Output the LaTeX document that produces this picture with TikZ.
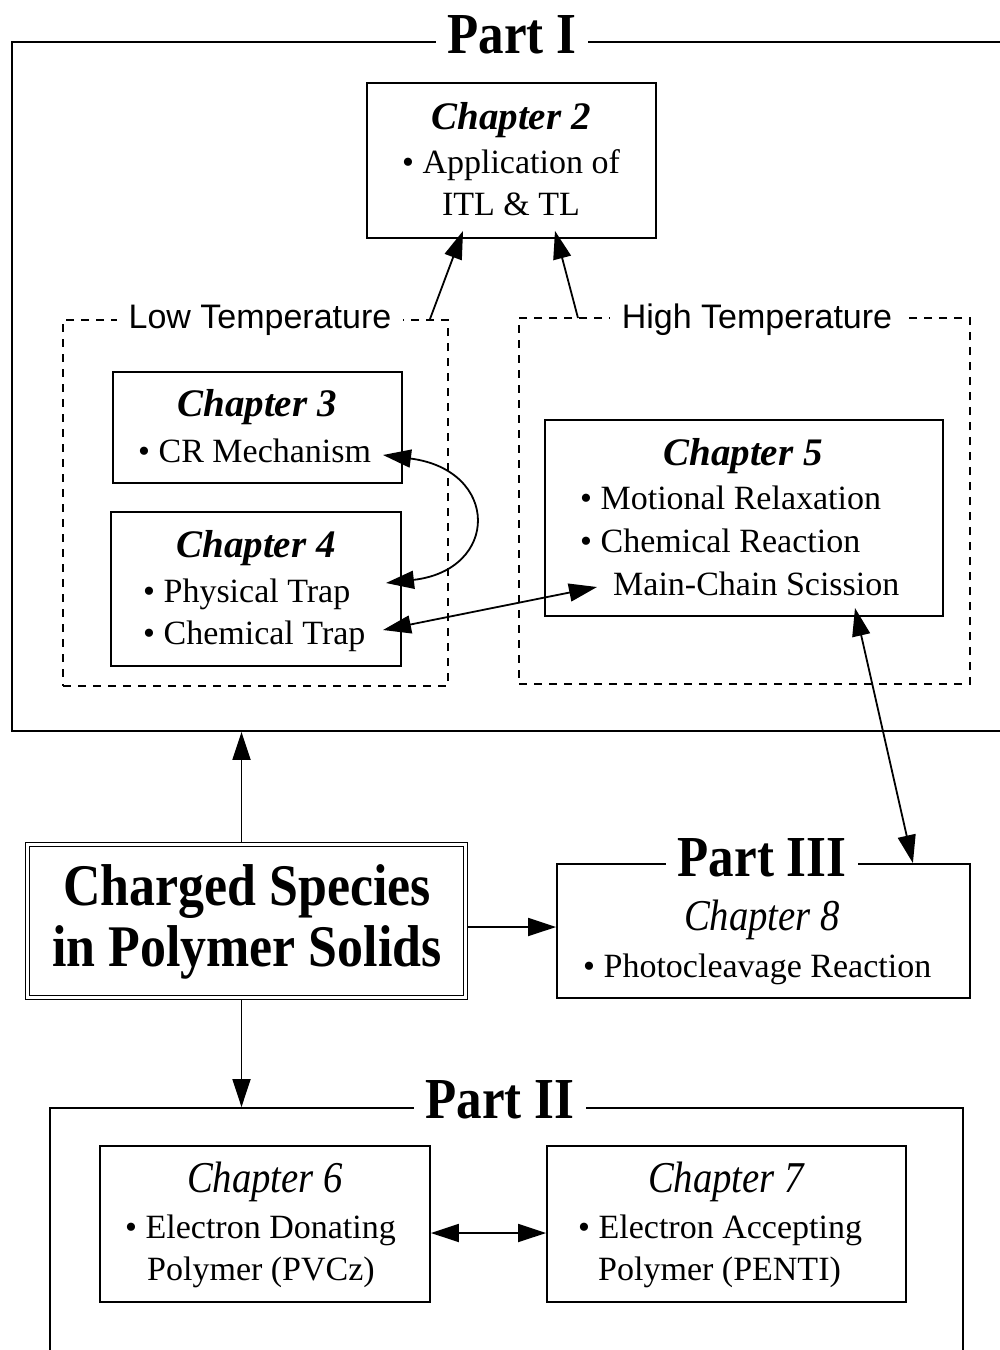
\documentclass[tikz,border=0pt]{standalone}
\usepackage{fontspec}
\setmainfont{Liberation Serif}
\newfontfamily\sansf{Liberation Sans}
\newfontfamily\condf[FakeStretch=0.88]{Liberation Serif}
\usetikzlibrary{arrows.meta,calc}
\begin{document}
\begin{tikzpicture}[x=1pt,y=-1pt,
  box/.style={draw, line width=1.8pt, inner sep=0pt},
  dbox/.style={draw, line width=1.3pt, dash pattern=on 8pt off 7pt, inner sep=0pt},
  body/.style={anchor=base west, inner sep=0pt, font=\fontsize{34}{40}\selectfont},
  cbody/.style={anchor=base, inner sep=0pt, font=\fontsize{34}{40}\selectfont},
  chap/.style={anchor=base, inner sep=0pt, font=\fontsize{39}{44}\selectfont\bfseries\itshape},
  chapl/.style={anchor=base, inner sep=0pt, font=\fontsize{44}{48}\selectfont\condf\itshape},
  part/.style={anchor=base, fill=white, inner xsep=12pt, inner ysep=0pt, font=\fontsize{58}{60}\selectfont\condf\bfseries},
  temp/.style={anchor=base, fill=white, inner xsep=12pt, inner ysep=2pt, font=\fontsize{34}{40}\selectfont\sansf},
  big/.style={anchor=base, inner sep=0pt, font=\fontsize{59}{62}\selectfont\condf\bfseries},
  arr/.style={line width=1.8pt, -{Triangle[length=28pt,width=18pt]}},
  darr/.style={line width=1.8pt, {Triangle[length=28pt,width=18pt]}-{Triangle[length=28pt,width=18pt]}},
]
\fill[white] (0,0) rectangle (1000,1350);
\useasboundingbox (0,0) rectangle (1000,1350);

% Frames
\node[box, minimum width=1008pt, minimum height=689pt] (p1) at (516,386.5) {};
\node[box, minimum width=913pt, minimum height=292pt] (p2) at (506.5,1254) {};
\node[box, minimum width=413pt, minimum height=134pt] (p3) at (763.5,931) {};
\node[dbox, minimum width=385pt, minimum height=366pt] (lt) at (255.5,503) {};
\node[dbox, minimum width=451pt, minimum height=366pt] (ht) at (744.5,501) {};

% Chapter boxes
\node[box, minimum width=289pt, minimum height=155pt] (c2) at (511.5,160.5) {};
\node[box, minimum width=289pt, minimum height=111pt] (c3) at (257.5,427.5) {};
\node[box, minimum width=290pt, minimum height=154pt] (c4) at (256,589) {};
\node[box, minimum width=398pt, minimum height=196pt] (c5) at (744,518) {};
\node[box, minimum width=330pt, minimum height=156pt] (c6) at (265,1224) {};
\node[box, minimum width=359pt, minimum height=156pt] (c7) at (726.5,1224) {};
\node[draw, line width=1.2pt, double, double distance=2.6pt, inner sep=0pt,
      minimum width=438pt, minimum height=153pt] (cs) at (246.5,921) {};

% Titles
\node[part] (t1) at (512,53) {Part I};
\node[part] (t3) at (762,876) {Part III};
\node[part] (t2) at (500,1118) {Part II};
\node[temp] (ltl) at (260,328) {Low Temperature};
\node[temp] (htl) at (757,328) {High Temperature};

% Texts
\node[chap] (c2h) at (511,129) {Chapter 2};
\node[cbody] (c2a) at (511,173) {\textbullet\ Application of};
\node[cbody] (c2b) at (511,215) {ITL \& TL};

\node[chap] (c3h) at (257,416) {Chapter 3};
\node[body] (c3a) at (138,462) {\textbullet\ CR Mechanism};

\node[chap] (c4h) at (256,557) {Chapter 4};
\node[body] (c4a) at (143,602) {\textbullet\ Physical Trap};
\node[body] (c4b) at (143,644) {\textbullet\ Chemical Trap};

\node[chap] (c5h) at (743,465) {Chapter 5};
\node[body] (c5a) at (580,509) {\textbullet\ Motional Relaxation};
\node[body] (c5b) at (580,552) {\textbullet\ Chemical Reaction};
\node[body] (c5c) at (613,595) {Main-Chain Scission};

\node[big] (csa) at (247,905) {Charged Species};
\node[big] (csb) at (247,966) {in Polymer Solids};

\node[chapl] (c8h) at (762,930) {Chapter 8};
\node[body] (c8a) at (583,977) {\textbullet\ Photocleavage Reaction};

\node[chapl] (c6h) at (265,1192) {Chapter 6};
\node[body] (c6a) at (125,1238) {\textbullet\ Electron Donating};
\node[body] (c6b) at (147,1280) {Polymer (PVCz)};

\node[chapl] (c7h) at (726,1192) {Chapter 7};
\node[body] (c7a) at (578,1238) {\textbullet\ Electron Accepting};
\node[body] (c7b) at (598,1280) {Polymer (PENTI)};

% Connector end points
\coordinate (ltc) at (430,319);
\coordinate (htc) at (578,318);
\coordinate (c3t) at (383,455);
\coordinate (c4u) at (386,583);
\coordinate (c4t) at (383,630);
\coordinate (c5t) at (597,587);
\coordinate (c5b) at (855,608);

% Connectors
\draw[arr] (ltc) -- ($(c2.south)+(-48.5,-8)$);
\draw[arr] (htc) -- ($(c2.south)+(43.5,-8)$);
\draw[darr] (c3t) .. controls (500,470) and (500,570) .. (c4u);
\draw[darr] (c4t) -- (c5t);
\draw[darr] (c5b) -- ($(p3.north east)+(-58,0)$);
\draw[arr] ($(cs.north)+(-5,-2)$) -- ($(cs.north |- p1.south)+(-5,0)$);
\draw[arr] ($(cs.east)+(2,6)$) -- ($(cs.east -| p3.west)+(0,6)$);
\draw[arr] ($(cs.south)+(-5,2)$) -- ($(cs.south |- p2.north)+(-5,0)$);
\draw[darr] ($(c6.east)+(0,9)$) -- ($(c7.west)+(0,9)$);
\end{tikzpicture}
\end{document}
